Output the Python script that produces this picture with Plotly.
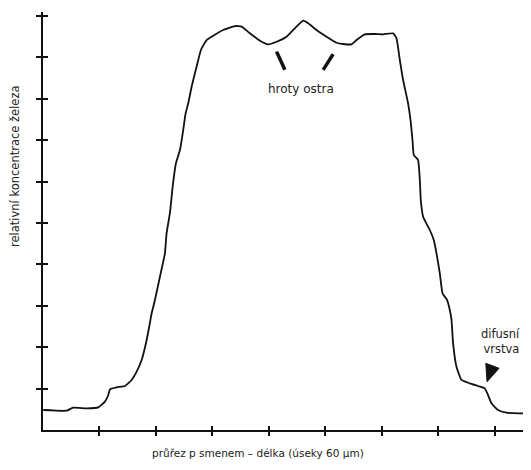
import plotly.graph_objects as go

# Profile of iron concentration across the section (x in 60 µm units, y relative)
pos_x = [0.005, 0.419, 0.531, 0.773, 0.979, 1.097, 1.156, 1.186, 1.304, 1.451, 1.570, 1.658,
         1.747, 1.823, 1.881, 1.924, 1.982, 2.071, 2.159, 2.189, 2.248, 2.296, 2.354, 2.425,
         2.483, 2.526, 2.572, 2.632, 2.690, 2.749, 2.796, 2.897, 2.986, 3.191, 3.398, 3.517,
         3.664, 3.841, 3.988, 4.136, 4.313, 4.460, 4.607, 4.696, 4.844, 5.021, 5.198, 5.315,
         5.464, 5.552, 5.699, 5.876, 6.023, 6.200, 6.260, 6.319, 6.377, 6.465, 6.508, 6.543,
         6.566, 6.642, 6.673, 6.690, 6.731, 6.850, 6.920, 6.968, 7.027, 7.075, 7.156, 7.204,
         7.234, 7.262, 7.322, 7.411, 7.558, 7.704, 7.823, 7.881, 7.942, 8.058, 8.207, 8.442, 8.619]
conc_y = [0.483, 0.466, 0.539, 0.524, 0.548, 0.684, 0.845, 0.983, 1.031, 1.063, 1.208, 1.408,
          1.691, 2.094, 2.495, 2.819, 3.140, 3.703, 4.268, 4.758, 5.242, 5.877, 6.442, 6.763,
          7.246, 7.650, 7.891, 8.292, 8.616, 8.937, 9.179, 9.420, 9.500, 9.662, 9.758, 9.742,
          9.582, 9.403, 9.316, 9.379, 9.500, 9.703, 9.887, 9.824, 9.662, 9.500, 9.355, 9.324,
          9.316, 9.420, 9.558, 9.565, 9.558, 9.582, 9.461, 8.937, 8.454, 7.891, 7.488, 7.005,
          6.643, 6.522, 6.039, 5.556, 5.152, 4.831, 4.589, 4.268, 3.785, 3.302, 3.140, 2.899,
          2.657, 2.094, 1.529, 1.208, 1.128, 1.063, 1.007, 0.845, 0.645, 0.483, 0.418, 0.403, 0.403]

x_ticks = [1, 2, 3, 4, 5, 6, 7, 8]
y_ticks = [1, 2, 3, 4, 5, 6, 7, 8, 9, 10]

y_title = "relativní koncentrace železa"
x_title = "průřez p smenem – délka (úseky 60 µm)"
peak_label = "hroty ostra"
layer_label = "difusní<br>vrstva"

FONT = "DejaVu Sans, Liberation Sans, Arial, sans-serif"
X_RANGE = [0, 8.5]
Y_RANGE = [0, 10.097]
INK = "#111111"

fig = go.Figure()
fig.add_trace(go.Scatter(x=pos_x, y=conc_y, mode="lines",
                         line=dict(color=INK, width=1.8, shape="spline", smoothing=0.4),
                         hoverinfo="skip", showlegend=False))
# invisible trace on overlay axes so they render
fig.add_trace(go.Scatter(x=[None], y=[None], xaxis="x2", yaxis="y2", showlegend=False))

axis_common = dict(showgrid=False, zeroline=False, showticklabels=False)
# page body has an 8px margin, so the figure is sized/offset to compensate
fig.update_layout(
    width=515, height=454,
    margin=dict(l=35, r=0, t=4, b=32),
    paper_bgcolor="white", plot_bgcolor="white",
    font=dict(family=FONT, color="#222222"),
    xaxis=dict(range=X_RANGE, tickvals=x_ticks, ticks="outside", ticklen=4, tickwidth=2,
               tickcolor=INK, showline=True, linecolor=INK, linewidth=1.5,
               **axis_common),
    yaxis=dict(range=Y_RANGE, tickvals=y_ticks, ticks="outside", ticklen=5, tickwidth=2,
               tickcolor=INK, showline=True, linecolor=INK, linewidth=2,
               **axis_common),
    xaxis2=dict(range=X_RANGE, tickvals=x_ticks, ticks="inside", ticklen=4, tickwidth=2,
                tickcolor=INK, overlaying="x", anchor="y2", side="bottom",
                **axis_common),
    yaxis2=dict(range=Y_RANGE, tickvals=y_ticks, ticks="inside", ticklen=5, tickwidth=2,
                tickcolor=INK, overlaying="y", anchor="x2", side="left",
                **axis_common),
)

# axis titles as free annotations (positioned like the reference)
fig.add_annotation(text=y_title, xref="paper", yref="paper", x=-0.058, y=0.632,
                   textangle=-90, showarrow=False, font=dict(size=11.5, family=FONT),
                   xanchor="center", yanchor="middle")
fig.add_annotation(text=x_title, xref="paper", yref="paper", x=0.448, y=-0.054,
                   showarrow=False, font=dict(size=10.5, family=FONT),
                   xanchor="center", yanchor="middle")

# peak label with two strokes
fig.add_annotation(text=peak_label, x=4.566, y=8.24, showarrow=False,
                   font=dict(size=12, family=FONT))
fig.add_shape(type="line", x0=4.136, y0=9.14, x1=4.283, y1=8.70,
              line=dict(color=INK, width=3.5))
fig.add_shape(type="line", x0=5.138, y0=9.08, x1=4.961, y1=8.70,
              line=dict(color=INK, width=3.5))

# diffusion layer label with a filled triangle
fig.add_annotation(text=layer_label, x=8.49, y=2.14, showarrow=False, align="right",
                   xanchor="right", font=dict(size=11.5, family=FONT))
fig.add_shape(type="path", path="M 7.841 1.611 L 8.076 1.490 L 7.864 1.167 Z",
              fillcolor=INK, line=dict(color=INK, width=1))

fig.write_html("out.html")
